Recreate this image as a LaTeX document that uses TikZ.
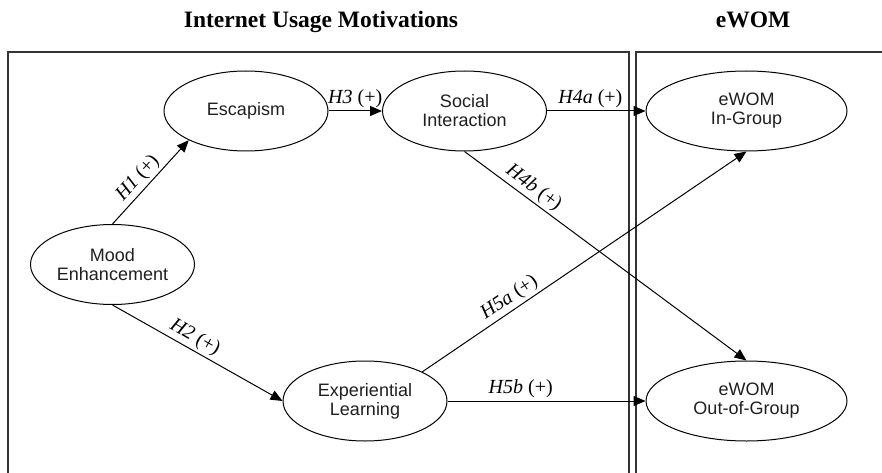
\documentclass[tikz,border=0pt]{standalone}
\usepackage{fontspec}
\setmainfont{Liberation Serif}
\setsansfont{Liberation Sans}
\usetikzlibrary{shapes.geometric,arrows.meta}

\begin{document}
\begin{tikzpicture}[x=1pt,y=-1pt,
  construct/.style={ellipse, draw, line width=1pt, inner sep=0pt, align=center,
    text=black!88, font=\sffamily\fontsize{18}{19}\selectfont},
  small/.style={construct, minimum width=164pt, minimum height=80pt},
  wide/.style={construct, minimum width=201pt, minimum height=80pt},
  link/.style={draw, line width=1pt, -{Triangle[length=12pt,width=10pt]}},
  hyp/.style={font=\fontsize{20}{22}\selectfont, sloped, above, inner sep=2.5pt},
  frame/.style={line width=1.2pt, black!80},
  heading/.style={font=\bfseries\fontsize{23.5}{26}\selectfont, anchor=base}
]
\useasboundingbox (0,0) rectangle (882,473);

% column headings
\node[heading] (hmot) at (321,28) {Internet Usage Motivations};
\node[heading] (hwom) at (753,28) {eWOM};

% open-bottom frames for the two groups
\draw[frame] (8,473) -- (8,52) -- (629,52) -- (629,473);
\draw[frame] (636,473) -- (636,52) -- (882,52);

% constructs
\node[small] (mood) at (112.5,264.5) {Mood\\Enhancement};
\node[small] (esc)  at (246,111)     {Escapism};
\node[small] (soc)  at (464.5,111)   {Social\\Interaction};
\node[small] (exp)  at (365,401)     {Experiential\\Learning};
\node[wide]  (ing)  at (746.5,111)   {eWOM\\In-Group};
\node[wide]  (outg) at (746.5,401)   {eWOM\\Out-of-Group};

% hypothesised paths
\draw[link] (mood.north) -- node[hyp, pos=0.45] {\textit{H1} (+)} (esc.207);
\draw[link] (mood.south) -- node[hyp, pos=0.45] {\textit{H2} (+)} (exp.west);
\draw[link] (esc.east) -- node[hyp, pos=0.5] {\textit{H3} (+)} (soc.west);
\draw[link] (soc.east) -- node[hyp, pos=0.44] {\textit{H4a} (+)} (ing.west);
\draw[link] (soc.south) -- node[hyp, pos=0.22] {\textit{H4b} (+)} (outg.north);
\draw[link] (exp.27) -- node[hyp, pos=0.29] {\textit{H5a} (+)} (ing.south);
\draw[link] (exp.east) -- node[hyp, pos=0.37] {\textit{H5b} (+)} (outg.west);
\end{tikzpicture}
\end{document}
